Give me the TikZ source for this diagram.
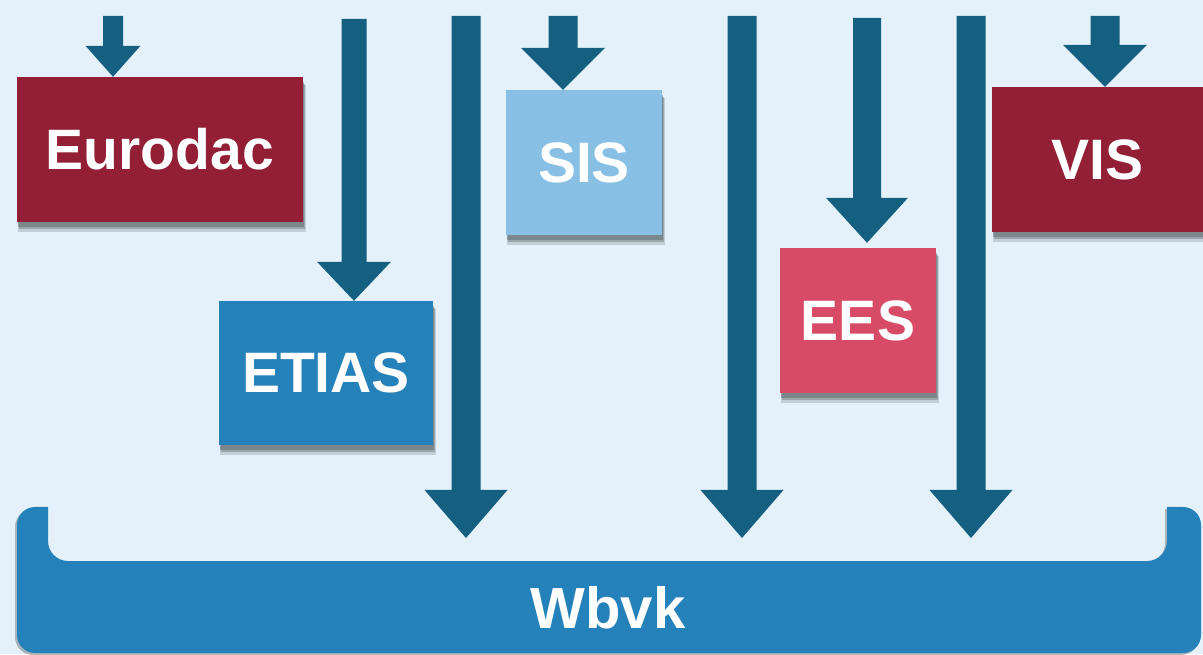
\documentclass[tikz,border=0pt]{standalone}
\usepackage{fontspec}
\setmainfont{Liberation Sans}
\usetikzlibrary{calc,shadows}
\definecolor{bg}{HTML}{E4F1FA}
\definecolor{arrowc}{HTML}{155F80}
\definecolor{darkred}{HTML}{921F36}
\definecolor{midblue}{HTML}{2581BA}
\definecolor{lightblue}{HTML}{87C0E4}
\definecolor{pinkred}{HTML}{D84B66}
\definecolor{shadowc}{HTML}{5F6A6E}
\newcommand\blockarr[5]{%
  \fill[arrowc] let \p1=(#1), \p2=(#2) in
    ({\x2-#3pt/2},\y1) -- ({\x2+#3pt/2},\y1) -- ({\x2+#3pt/2},{\y2+#5pt})
    -- ({\x2+#4pt/2},{\y2+#5pt}) -- (\x2,\y2) -- ({\x2-#4pt/2},{\y2+#5pt})
    -- ({\x2-#3pt/2},{\y2+#5pt}) -- cycle;}
\begin{document}
\begin{tikzpicture}[x=1pt,y=1pt,
  box/.style={inner sep=0pt, text=white, font=\bfseries\fontsize{57}{60}\selectfont,
    general shadow={shadow xshift=2pt, shadow yshift=-9pt, shadow scale=1.01, fill=shadowc, opacity=0.25},
    general shadow={shadow xshift=2pt, shadow yshift=-7pt, fill=shadowc, opacity=0.4},
    general shadow={shadow xshift=1pt, shadow yshift=-5pt, fill=shadowc, opacity=0.5}},
  barshape/.style={fill=midblue}]
\fill[bg] (0,0) rectangle (1203,654);
\useasboundingbox (0,0) rectangle (1203,654);

% bottom bar
\fill[shadowc, opacity=0.45, shift={(-2,-2)}]
  (48,147) -- (48,113) arc (180:270:20) -- (1147,93) arc (270:360:20)
  -- (1167,147) -- (1183,147) arc (90:0:18) -- (1201,19) arc (0:-90:18)
  -- (35,1) arc (270:180:18) -- (17,129) arc (180:90:18) -- cycle;
\fill[barshape]
  (48,147) -- (48,113) arc (180:270:20) -- (1147,93) arc (270:360:20)
  -- (1167,147) -- (1183,147) arc (90:0:18) -- (1201,19) arc (0:-90:18)
  -- (35,1) arc (270:180:18) -- (17,129) arc (180:90:18) -- cycle;
\node[text=white, font=\bfseries\fontsize{58}{60}\selectfont] (wbvk) at (608,46) {Wbvk};

% boxes
\node[box, fill=darkred, minimum width=286pt, minimum height=145pt] (eurodac) at (160,504.5) {Eurodac};
\node[box, fill=midblue, minimum width=214pt, minimum height=144pt] (etias) at (326,281) {ETIAS};
\node[box, fill=lightblue, minimum width=156pt, minimum height=145pt] (sis) at (584,491.5) {SIS};
\node[box, fill=pinkred, minimum width=156pt, minimum height=145pt] (ees) at (858,333.5) {EES};
\node[box, fill=darkred, minimum width=211pt, minimum height=145pt] (vis) at (1097.5,494.5) {VIS};

% arrow tops and free ends
\coordinate (a1) at (113,638);
\coordinate (a2) at (354,635);
\coordinate (a3) at (466,638);
\coordinate (a4) at (563,638);
\coordinate (a5) at (742,638);
\coordinate (a6) at (867,636);
\coordinate (a7) at (971,638);
\coordinate (a8) at (1105,638);
\coordinate (e3) at (466,116);
\coordinate (e5) at (742,116);
\coordinate (e7) at (971,116);

\blockarr{a1}{a1 |- eurodac.north}{20}{55}{31}
\blockarr{a2}{a2 |- etias.north}{25}{74}{39}
\blockarr{a3}{e3}{29}{83}{48}
\blockarr{a4}{a4 |- sis.north}{29}{84}{42}
\blockarr{a5}{e5}{29}{83}{48}
\blockarr{a6}{$(a6 |- ees.north)+(0,5)$}{28}{82}{45}
\blockarr{a7}{e7}{29}{83}{48}
\blockarr{a8}{a8 |- vis.north}{29}{84}{42}
\end{tikzpicture}
\end{document}
